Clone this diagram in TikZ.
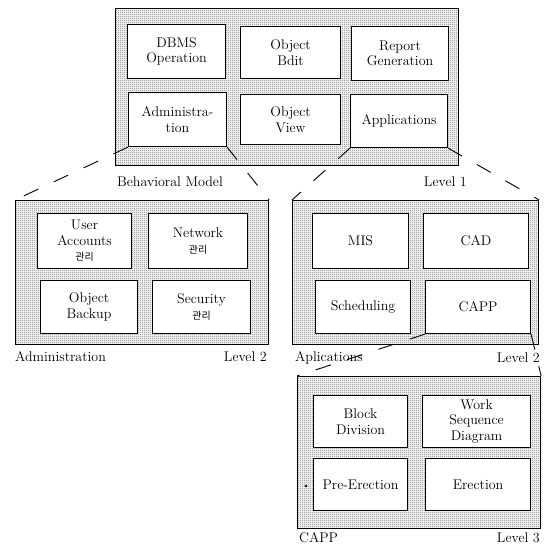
\documentclass[tikz,border=0pt]{standalone}
\usepackage{fontspec}
\newfontfamily\kr{Noto Sans CJK KR}
\usetikzlibrary{patterns}

% fine checkerboard stipple for the level trays
\pgfdeclarepatternformonly{stipple}{\pgfpointorigin}{\pgfpoint{2pt}{2pt}}{\pgfpoint{2pt}{2pt}}{%
  \pgfpathrectangle{\pgfpointorigin}{\pgfpoint{1pt}{1pt}}%
  \pgfpathrectangle{\pgfpoint{1pt}{1pt}}{\pgfpoint{1pt}{1pt}}%
  \pgfusepath{fill}}

\newcommand{\kor}[1]{{\kr\fontsize{10}{12}\selectfont #1}}

\tikzset{
  panel/.style={draw, line width=1.1pt, pattern=stipple, pattern color=black!55,
    inner sep=0pt, anchor=north west},
  box/.style={draw, line width=1.1pt, fill=white, inner sep=0pt, anchor=north west,
    align=center, font=\fontsize{14}{15.5}\selectfont},
  zoomline/.style={line width=0.9pt, dash pattern=on 16pt off 17pt},
  caption/.style={font=\fontsize{14}{16}\selectfont, inner sep=0pt}
}

\begin{document}
\begin{tikzpicture}[x=1pt,y=-1pt]
\fill[white] (0,0) rectangle (545,545);
\useasboundingbox (0,0) rectangle (545,545);

% ---- Level 1: behavioral model ----
\node[panel, minimum width=343pt, minimum height=157pt] (L1) at (115,8) {};
\node[box, minimum width=98pt, minimum height=54pt] (dbms) at (127,24) {DBMS\\Operation};
\node[box, minimum width=100pt, minimum height=52pt] (bdit) at (240,26) {Object\\Bdit};
\node[box, minimum width=97pt, minimum height=54pt] (rep) at (351,26) {Report\\Generation};
\node[box, minimum width=98pt, minimum height=54pt] (adm) at (128,92) {Administra-\\tion};
\node[box, minimum width=100pt, minimum height=50pt] (view) at (240,94) {Object\\View};
\node[box, minimum width=97pt, minimum height=53pt] (apps) at (350,94) {Applications};
\node[caption] (c1a) at (170,182) {Behavioral Model};
\node[caption, anchor=east] (c1b) at (467,182) {Level 1};

% ---- Level 2: administration ----
\node[panel, minimum width=253pt, minimum height=144pt] (L2a) at (15,200) {};
\node[box, minimum width=94pt, minimum height=55pt] (user) at (37,213) {User\\Accounts\\\kor{관리}};
\node[box, minimum width=99pt, minimum height=55pt] (net) at (148,213) {Network\\\kor{관리}};
\node[box, minimum width=97pt, minimum height=53pt] (bak) at (40,280) {Object\\Backup};
\node[box, minimum width=98pt, minimum height=53pt] (sec) at (152,280) {Security\\\kor{관리}};
\node[caption, anchor=west] (c2a) at (15,357) {Administration};
\node[caption, anchor=east] (c2b) at (267,357) {Level 2};

% ---- Level 2: applications ----
\node[panel, minimum width=246pt, minimum height=144pt] (L2b) at (292,200) {};
\node[box, minimum width=96pt, minimum height=55pt] (mis) at (312,213) {MIS};
\node[box, minimum width=105pt, minimum height=55pt] (cad) at (423,213) {CAD};
\node[box, minimum width=95pt, minimum height=53pt] (sch) at (315,280) {Scheduling};
\node[box, minimum width=105pt, minimum height=53pt] (capp) at (425,280) {CAPP};
\node[caption, anchor=west] (c3a) at (295,358) {Aplications};
\node[caption, anchor=east] (c3b) at (540,358) {Level 2};

% ---- Level 3: CAPP ----
\node[panel, minimum width=243pt, minimum height=152pt] (L3) at (297,376) {};
\node[box, minimum width=94pt, minimum height=52pt] (blk) at (313,395) {Block\\Division};
\node[box, minimum width=108pt, minimum height=52pt] (wsd) at (422,395) {Work\\Sequence\\Diagram};
\node[box, minimum width=94pt, minimum height=52pt] (pre) at (313,458) {Pre-Erection};
\node[box, minimum width=105pt, minimum height=52pt] (ere) at (425,458) {Erection};
\node[caption, anchor=west] (c4a) at (299,538) {CAPP};
\node[caption, anchor=east] (c4b) at (540,538) {Level 3};
\fill (306,486) circle (1.3pt);

% ---- expansion lines ----
\draw[zoomline] (adm.south west) -- (L2a.north west);
\draw[zoomline] (adm.south east) -- (L2a.north east);
\draw[zoomline] (apps.south west) -- (L2b.north west);
\draw[zoomline] (apps.south east) -- (L2b.north east);
\draw[zoomline] (capp.south west) -- (L3.north west);
\draw[zoomline] (capp.south east) -- (L3.north east);
\end{tikzpicture}
\end{document}
